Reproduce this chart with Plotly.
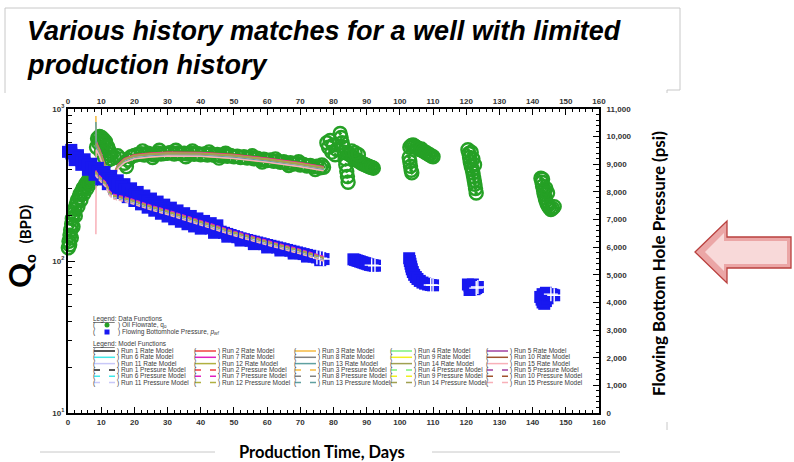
import plotly.graph_objects as go

# ---------------- data ----------------
# oil flowrate measurements (days, BPD)
oil_days = [
    0.1, 0.3, 0.5, 0.6, 0.8, 1.0, 1.1, 1.3, 1.5, 1.7, 2.0, 2.2, 2.5, 2.8, 3.0, 3.3, 3.6, 3.9,
    4.2, 4.5, 4.8, 5.1, 5.4, 5.7, 6.0, 6.3, 6.6, 6.9, 7.2, 7.5, 7.8, 8.1,
    8.6, 8.9, 9.2, 9.5, 9.8, 10.1, 10.4, 10.7, 11.0, 11.3, 11.6, 12.0, 12.4, 12.8, 10.0, 11.0, 12.0,
    22.5, 27.5, 32.5, 37.5, 42.5, 47.5, 55.5, 62.5, 69.5, 76.5, 25.5, 35.5, 45.5, 58.5, 66.5, 74.5,
    13, 14, 15, 16, 17, 17.6, 18, 19, 20, 21, 22, 23, 24, 25, 26, 27, 28, 29, 30, 31, 32, 33, 34,
    35, 36, 37, 38, 39, 40, 41, 42, 43, 44, 45, 46, 47, 48, 49, 50, 51, 52, 53, 54, 55, 56, 57,
    58, 59, 60, 61, 62, 63, 64, 65, 66, 67, 68, 69, 70, 71, 72, 73, 74, 75, 76, 77,
    78.0, 78.5, 79.0, 79.5, 80.0, 80.5, 81.0, 82.0, 82.3, 82.6, 83.0, 83.2, 83.5, 83.7, 84.0, 84.2,
    84.4, 84.5, 85.0, 85.5, 86.0, 86.5, 87.0, 87.5, 88.0, 88.5, 89.0, 89.5, 90.0, 90.5, 91.0, 91.5,
    92.0, 85.5, 86.5, 87.5,
    103.0, 103.5, 104.0, 104.5, 105.0, 105.5, 106.0, 106.5, 107.0, 107.5, 108.0, 108.5, 109.0,
    109.5, 110.0, 102.8, 103.0, 103.2, 103.4, 103.6,
    120.5, 120.8, 121.0, 121.2, 121.5, 121.8, 122.0, 122.2, 122.4, 122.6, 122.8, 123.0, 121.5,
    122.0, 122.5,
    142.5, 142.8, 143.0, 143.3, 143.5, 143.8, 144.0, 144.3, 144.6, 145.0, 145.5, 146.0, 146.5,
    143.0, 144.0, 144.5,
]
oil_rate = [
    122, 135, 128, 148, 160, 142, 175, 190, 168, 205, 220, 198, 235, 250, 228, 262, 275, 252,
    288, 300, 278, 310, 322, 300, 335, 345, 322, 355, 365, 342, 375, 388,
    560, 640, 600, 660, 620, 650, 600, 630, 590, 610, 570, 560, 530, 500, 520, 480, 460,
    530, 535, 535, 530, 522, 512, 492, 470, 450, 428, 480, 485, 475, 448, 425, 400,
    470, 482, 492, 470, 440, 418, 462, 485, 495, 502, 508, 498, 512, 505, 500, 514, 505, 510, 512,
    518, 506, 514, 508, 512, 505, 514, 504, 510, 500, 507, 498, 504, 495, 502, 492, 498, 488, 494,
    485, 490, 480, 486, 476, 480, 470, 474, 465, 468, 458, 462, 452, 456, 446, 450, 440, 444, 434,
    438, 428, 432, 422, 426, 416, 420, 410, 414,
    600, 560, 620, 520, 580, 500, 540, 690, 650, 600, 560, 520, 470, 430, 390, 360,
    330, 510, 500, 490, 480, 470, 462, 455, 448, 440, 435, 430, 425, 420, 415, 412,
    408, 530, 515, 500,
    560, 575, 580, 570, 560, 550, 540, 545, 530, 520, 515, 505, 500,
    490, 485, 480, 450, 420, 395, 380,
    540, 510, 480, 450, 420, 400, 380, 360, 340, 320, 300, 280, 520,
    470, 430,
    350, 330, 310, 290, 275, 260, 250, 240, 232, 225, 218, 222, 228,
    345, 300, 280,
]

# flowing bottomhole pressure measurements (days, psi)
pwf_days = [
    1, 3, 5, 7, 9, 11, 13, 15, 17, 19, 21, 23, 25, 27, 29, 31, 33, 35, 37, 39, 41, 43, 45,
    2, 4, 6, 8, 10, 12, 14, 16, 18, 20, 22, 24, 26, 28, 30, 32, 34, 36, 38, 40, 44, 48, 52,
    56, 60, 64, 68, 72, 76,
] + list(range(0, 78)) + [
    86.0, 86.5, 87.0, 87.5, 88.0, 88.5, 89.0, 89.5, 90.0, 90.5, 91.0, 91.5, 92.0, 92.5,
    102.8, 103.0, 103.2, 103.4, 103.6, 103.9, 104.3, 104.8, 105.3, 106.0, 106.8, 107.6,
    108.5, 109.3, 110.0,
    120.5, 121.0, 121.5, 122.0, 122.5, 123.0, 123.5, 121.0, 122.0,
    142.3, 142.7, 143.0, 143.5, 144.0, 144.5, 145.0, 145.5, 146.0, 146.5, 143.0, 144.0,
]
pwf_psi = [
    9520, 9330, 9180, 9020, 8870, 8720, 8580, 8420, 8280, 8130, 8000, 7870, 7760, 7650, 7540,
    7430, 7330, 7230, 7130, 7040, 6950, 6870, 6790,
    9150, 8980, 8800, 8620, 8450, 8280, 8120, 7960, 7810, 7670, 7550, 7430, 7320, 7210, 7110,
    7010, 6920, 6830, 6750, 6670, 6520, 6380, 6240, 6110, 5990, 5880, 5770, 5660, 5530,
    9450, 9390, 9310, 9230, 9140, 9060, 8980, 8900, 8820, 8740, 8660, 8580, 8500, 8420, 8340,
    8260, 8180, 8100, 8030, 7960, 7890, 7820, 7760, 7700, 7640, 7580, 7520, 7460, 7400, 7340,
    7280, 7230, 7180, 7130, 7080, 7030, 6980, 6930, 6880, 6840, 6800, 6760, 6720, 6680, 6640,
    6600, 6560, 6520, 6480, 6440, 6400, 6360, 6320, 6290, 6260, 6230, 6200, 6170, 6140, 6110,
    6080, 6050, 6020, 5990, 5960, 5930, 5900, 5870, 5840, 5810, 5780, 5750, 5720, 5690, 5660,
    5630, 5600, 5570,
    5560, 5540, 5520, 5500, 5480, 5460, 5440, 5420, 5400, 5380, 5360, 5350, 5340, 5330,
    5600, 5500, 5400, 5300, 5200, 5100, 5000, 4920, 4850, 4780, 4720, 4680,
    4650, 4630, 4620,
    4650, 4600, 4550, 4500, 4480, 4520, 4560, 4450, 4650,
    4200, 4100, 4000, 3950, 4050, 4150, 4250, 4300, 4280, 4260, 4300, 4350,
]
# squares whose white cross stays uncovered (last samples of each group)
pwf_cross_days = [75, 76, 77, 91.5, 92.5, 109.3, 110.0, 123.0, 123.5, 145.5, 146.5]

# model runs share one time grid (days)
model_days = [8.4, 8.5, 9.5, 10.5, 11.5, 12.5, 13.5, 15, 17, 20, 25, 30, 40, 50, 60, 70, 77]

# rate models, BPD
rate_run1 = [560, 560, 520, 450, 390, 340, 350, 418, 458, 485, 498, 505, 503, 487, 460, 430, 405]
rate_run2 = [600, 600, 540, 470, 400, 350, 360, 430, 472, 500, 513, 520, 518, 502, 474, 443, 417]
rate_run3 = [900, 620, 500, 420, 360, 320, 330, 408, 447, 473, 486, 492, 490, 475, 449, 419, 395]
rate_run4 = [580, 580, 530, 460, 395, 345, 355, 423, 464, 491, 504, 511, 509, 493, 466, 435, 410]
rate_run5 = [570, 570, 510, 440, 385, 335, 345, 415, 454, 481, 494, 501, 499, 483, 456, 427, 402]
rate_run6 = [590, 590, 525, 455, 392, 342, 352, 421, 461, 488, 501, 508, 506, 490, 463, 433, 407]
rate_run7 = [610, 610, 545, 475, 405, 352, 362, 428, 469, 497, 510, 518, 516, 499, 472, 441, 415]
rate_run8 = [550, 550, 505, 435, 380, 330, 340, 410, 449, 475, 488, 495, 493, 477, 451, 421, 397]
rate_run9 = [585, 585, 522, 452, 390, 340, 350, 419, 459, 486, 499, 507, 505, 488, 461, 431, 406]
rate_run10 = [575, 575, 515, 445, 388, 338, 348, 416, 456, 483, 496, 503, 501, 485, 458, 428, 403]
rate_run11 = [565, 565, 512, 442, 386, 336, 346, 413, 453, 479, 492, 499, 497, 481, 454, 425, 400]
rate_run12 = [595, 595, 535, 465, 398, 348, 358, 426, 466, 494, 507, 514, 512, 496, 468, 438, 412]
rate_run13 = [820, 560, 505, 438, 382, 333, 343, 411, 451, 477, 490, 497, 495, 479, 453, 423, 399]
rate_run14 = [590, 590, 528, 458, 394, 344, 354, 422, 463, 490, 503, 510, 508, 492, 465, 434, 409]
rate_run15 = [150, 540, 490, 425, 370, 325, 335, 405, 444, 470, 483, 490, 488, 472, 446, 417, 393]

# pressure models, psi
pwf_run1 = [8700, 8650, 8500, 8380, 8250, 7960, 7840, 7790, 7740, 7630, 7430, 7260, 6880, 6500, 6160, 5840, 5580]
pwf_run2 = [8760, 8710, 8560, 8440, 8310, 8020, 7900, 7850, 7800, 7690, 7490, 7320, 6940, 6560, 6220, 5900, 5640]
pwf_run3 = [8660, 8610, 8460, 8340, 8210, 7920, 7800, 7750, 7700, 7590, 7390, 7220, 6840, 6460, 6120, 5800, 5540]
pwf_run4 = [8730, 8680, 8530, 8410, 8280, 7990, 7870, 7820, 7770, 7660, 7460, 7290, 6910, 6530, 6190, 5870, 5610]
pwf_run5 = [8680, 8630, 8480, 8360, 8230, 7940, 7820, 7770, 7720, 7610, 7410, 7240, 6860, 6480, 6140, 5820, 5560]
pwf_run6 = [8710, 8660, 8510, 8390, 8260, 7970, 7850, 7800, 7750, 7640, 7440, 7270, 6890, 6510, 6170, 5850, 5590]
pwf_run7 = [8780, 8730, 8580, 8460, 8330, 8040, 7920, 7870, 7820, 7710, 7510, 7340, 6960, 6580, 6240, 5920, 5660]
pwf_run8 = [8630, 8580, 8430, 8310, 8180, 7890, 7770, 7720, 7670, 7560, 7360, 7190, 6810, 6430, 6090, 5770, 5510]
pwf_run9 = [8704, 8654, 8504, 8384, 8254, 7964, 7844, 7794, 7744, 7634, 7434, 7264, 6884, 6504, 6164, 5844, 5584]
pwf_run10 = [8690, 8640, 8490, 8370, 8240, 7950, 7830, 7780, 7730, 7620, 7420, 7250, 6870, 6490, 6150, 5830, 5570]
pwf_run11 = [8670, 8620, 8470, 8350, 8220, 7930, 7810, 7760, 7710, 7600, 7400, 7230, 6850, 6470, 6130, 5810, 5550]
pwf_run12 = [8740, 8690, 8540, 8420, 8290, 8000, 7880, 7830, 7780, 7670, 7470, 7300, 6920, 6540, 6200, 5880, 5620]
pwf_run13 = [8640, 8590, 8440, 8320, 8190, 7900, 7780, 7730, 7680, 7570, 7370, 7200, 6820, 6440, 6100, 5780, 5520]
pwf_run14 = [8724, 8674, 8524, 8404, 8274, 7984, 7864, 7814, 7764, 7654, 7454, 7284, 6904, 6524, 6184, 5864, 5604]
pwf_run15 = [8620, 8570, 8420, 8300, 8170, 7880, 7760, 7710, 7660, 7550, 7350, 7180, 6800, 6420, 6080, 5760, 5500]

rate_runs = [rate_run1, rate_run2, rate_run3, rate_run4, rate_run5, rate_run6, rate_run7,
             rate_run8, rate_run9, rate_run10, rate_run11, rate_run12, rate_run13, rate_run14,
             rate_run15]
pwf_runs = [pwf_run1, pwf_run2, pwf_run3, pwf_run4, pwf_run5, pwf_run6, pwf_run7, pwf_run8,
            pwf_run9, pwf_run10, pwf_run11, pwf_run12, pwf_run13, pwf_run14, pwf_run15]

run_colors = ["#1e1e1e", "#f04040", "#f5b940", "#7ef07e", "#a040a0",
              "#40e8e8", "#e020c0", "#808080", "#f0f020", "#a0522d",
              "#c8c8f8", "#b0b040", "#5fa0a0", "#a0a050", "#f8b0b8"]

time_ticks = list(range(0, 161, 10))
rate_tickvals = [10, 100, 1000]
rate_ticktext = ["10<sup>1</sup>", "10<sup>2</sup>", "10<sup>3</sup>"]

# ---------------- layout helpers ----------------
L, R, T, B = 68, 599, 109, 413
W, H = 794, 462


def px(x):
    return (x - L) / (R - L)


def py(y):
    return (B - y) / (B - T)


def path(points):
    s = "M " + " L ".join(f"{px(x):.5f},{py(y):.5f}" for x, y in points)
    return s + " Z"


fig = go.Figure()

GREEN = "#25a025"
BLUE = "#1818f0"

fig.add_trace(go.Scatter(
    x=oil_days, y=oil_rate, mode="markers", yaxis="y", xaxis="x", cliponaxis=False,
    marker=dict(symbol="circle-open-dot", size=13, color=GREEN, line=dict(width=2.4)),
    showlegend=False, hoverinfo="skip"))

fig.add_trace(go.Scatter(
    x=pwf_days, y=pwf_psi, mode="markers", yaxis="y2", xaxis="x", cliponaxis=False,
    marker=dict(symbol="square", size=12, color=BLUE, line=dict(width=0)),
    showlegend=False, hoverinfo="skip"))

cross_x, cross_y = [], []
for d in pwf_cross_days:
    i = max(j for j, v in enumerate(pwf_days) if v == d)
    cross_x.append(pwf_days[i])
    cross_y.append(pwf_psi[i])
fig.add_trace(go.Scatter(
    x=cross_x, y=cross_y, mode="markers", yaxis="y2", xaxis="x",
    marker=dict(symbol="cross-thin-open", size=10, color="white", line=dict(width=1.4)),
    showlegend=False, hoverinfo="skip"))

for k in range(15):
    fig.add_trace(go.Scatter(
        x=model_days, y=rate_runs[k], mode="lines", yaxis="y", xaxis="x",
        line=dict(color=run_colors[k], width=1.5), showlegend=False, hoverinfo="skip"))
for k in range(15):
    fig.add_trace(go.Scatter(
        x=model_days, y=pwf_runs[k], mode="lines", yaxis="y2", xaxis="x",
        line=dict(color=run_colors[k], width=1.5, dash="4px,2px"), showlegend=False,
        hoverinfo="skip"))

# empty trace so the top time axis is drawn
fig.add_trace(go.Scatter(x=[None], y=[None], xaxis="x2", yaxis="y", showlegend=False,
                         hoverinfo="skip"))

tickfont = dict(family="Liberation Sans", size=8, color="#333333", weight="bold")
axis_common = dict(showline=True, linewidth=2, linecolor="black", ticks="inside",
                   tickcolor="black", tickwidth=1.3, showgrid=False, zeroline=False,
                   tickfont=tickfont)

fig.update_layout(
    width=W, height=H, autosize=False,
    margin=dict(l=L, r=W - R, t=T, b=H - B, pad=0),
    paper_bgcolor="white", plot_bgcolor="white",
    xaxis=dict(range=[0, 160], tickmode="array", tickvals=time_ticks, ticklen=6,
               minor=dict(dtick=2, ticks="inside", ticklen=3, tickcolor="black", tickwidth=1),
               **axis_common),
    xaxis2=dict(range=[0, 160], overlaying="x", side="top", tickmode="array",
                tickvals=time_ticks, ticklen=6,
                minor=dict(dtick=2, ticks="inside", ticklen=3, tickcolor="black", tickwidth=1),
                **axis_common),
    yaxis=dict(type="log", range=[1, 3], tickmode="array", tickvals=rate_tickvals,
               ticktext=rate_ticktext, ticklen=7,
               minor=dict(dtick="D1", ticks="inside", ticklen=4, tickcolor="black", tickwidth=1),
               **axis_common),
    yaxis2=dict(range=[0, 11000], overlaying="y", side="right", tickmode="linear", tick0=0,
                dtick=1000, tickformat=",", ticklen=6, ticklabelstandoff=4,
                minor=dict(dtick=200, ticks="inside", ticklen=3, tickcolor="black", tickwidth=1),
                **{**axis_common,
                   "tickfont": dict(family="Liberation Sans", size=8, color="#333333",
                                    weight="bold")}),
)

shapes = []
annotations = []

# slide frames
GRAY = "#c8c8c8"
for (x0, y0, x1, y1) in [(5, 8, 680, 8), (5, 8, 5, 93), (680, 8, 680, 90), (667, 90, 680, 90),
                         (667, 90, 667, 93), (40, 452, 215, 452), (432, 452, 620, 452),
                         (667, 422, 667, 430)]:
    shapes.append(dict(type="line", xref="paper", yref="paper", x0=px(x0), y0=py(y0),
                       x1=px(x1), y1=py(y1), line=dict(color=GRAY, width=1)))

# heading
annotations.append(dict(xref="paper", yref="paper", x=px(25), y=py(31), xanchor="left",
                        yanchor="middle", showarrow=False,
                        text="<b><i>Various history matches for a well with limited</i></b>",
                        font=dict(family="Liberation Sans", size=27, color="black")))
annotations.append(dict(xref="paper", yref="paper", x=px(25), y=py(65), xanchor="left",
                        yanchor="middle", showarrow=False,
                        text="<b><i>production history</i></b>",
                        font=dict(family="Liberation Sans", size=27, color="black")))

# axis titles
annotations.append(dict(xref="paper", yref="paper", x=px(322), y=py(452), xanchor="center",
                        yanchor="middle", showarrow=False, text="<b>Production Time, Days</b>",
                        font=dict(family="Lato", size=16.5, color="black")))
annotations.append(dict(xref="paper", yref="paper", x=px(658), y=py(264), xanchor="center",
                        yanchor="middle", showarrow=False, textangle=-90,
                        text="<b>Flowing Bottom Hole Pressure (psi)</b>",
                        font=dict(family="Lato", size=17, color="black")))
annotations.append(dict(xref="paper", yref="paper", x=px(19), y=py(247), xanchor="center",
                        yanchor="middle", showarrow=False, textangle=-90,
                        text="<b><span style='font-size:31px'>Q</span><sub>o</sub>"
                             "  <span style='font-size:15px'>(BPD)</span></b>",
                        font=dict(family="Lato", size=22, color="black")))

# arrow
arrow_out = [(695, 252), (727, 221), (727, 237), (791, 237), (791, 268), (727, 268), (727, 283)]
arrow_in = [(705, 252), (724, 233), (724, 241), (787, 241), (787, 264), (724, 264), (724, 271)]
shapes.append(dict(type="path", xref="paper", yref="paper", path=path(arrow_out),
                   fillcolor="#eba6a6", line=dict(color="#b9403e", width=1.3)))
shapes.append(dict(type="path", xref="paper", yref="paper", path=path(arrow_in),
                   fillcolor="#f8d9d9", line=dict(width=0)))

# in-plot legend
LEG_FONT = dict(family="Liberation Sans", size=6.5, color="#3a3a3a")


def leg_text(x, y, s):
    annotations.append(dict(xref="paper", yref="paper", x=px(x), y=py(y), xanchor="left",
                            yanchor="middle", showarrow=False, text=s, font=LEG_FONT))


leg_text(91, 319, "<u>Legend</u>: Data Functions")
leg_text(91, 325, "(")
leg_text(116, 325, ") Oil Flowrate, q<sub>o</sub>")
shapes.append(dict(type="circle", xref="paper", yref="paper", x0=px(104.5), x1=px(109.5),
                   y0=py(322.5), y1=py(327.5), fillcolor=GREEN, line=dict(width=0)))
leg_text(91, 332, "(")
leg_text(116, 332, ") Flowing Bottomhole Pressure, <i>p<sub>wf</sub></i>")
shapes.append(dict(type="rect", xref="paper", yref="paper", x0=px(104.5), x1=px(109.5),
                   y0=py(329.5), y1=py(334.5), fillcolor=BLUE, line=dict(width=0)))
leg_text(91, 344, "<u>Legend</u>: Model Functions")

col_x = [92, 193, 293, 389, 485]
row_y = [351, 357.3, 363.6, 370, 376.3, 382.6]
for r in range(6):
    for c in range(5):
        run = (r % 3) * 5 + c + 1
        kind = "Rate" if r < 3 else "Pressure"
        x0 = col_x[c]
        y0 = row_y[r]
        leg_text(x0 - 1, y0, "(")
        leg_text(x0 + 23, y0, f") Run {run} {kind} Model")
        shapes.append(dict(type="line", xref="paper", yref="paper", x0=px(x0 + 2),
                           x1=px(x0 + 23), y0=py(y0), y1=py(y0),
                           line=dict(color=run_colors[run - 1], width=1.5,
                                     dash="solid" if kind == "Rate" else "6px,9px")))

fig.update_layout(shapes=shapes, annotations=annotations)

fig.write_html("out.html")
